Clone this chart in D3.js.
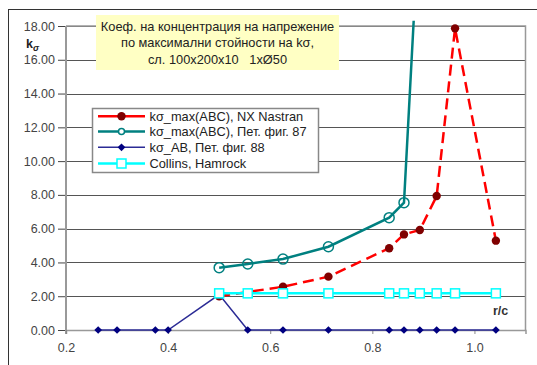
<!DOCTYPE html>
<html>
<head>
<meta charset="utf-8">
<script src="https://cdn.jsdelivr.net/npm/d3@7/dist/d3.min.js"></script>
<style>
  html, body { margin: 0; padding: 0; background: #fff; }
  svg { display: block; font-family: "Liberation Sans", Arial, sans-serif; }
  text { white-space: pre; }
</style>
</head>
<body>
<svg id="chart" width="537" height="365"></svg>
<script>
// r/c positions of the measured sections
const xMain = [0.5, 0.556, 0.625, 0.714, 0.833, 0.862, 0.893, 0.926, 0.962, 1.042];
const xNastran = [0.5, 0.625, 0.714, 0.833, 0.862, 0.893, 0.926, 0.962, 1.042];
const xFig87 = [0.5, 0.556, 0.625, 0.714, 0.833, 0.862, 0.881];
const xFig88 = [0.263, 0.3, 0.375, 0.4, 0.5, 0.556, 0.625, 0.714, 0.833, 0.862, 0.893, 0.926, 0.962, 1.042];

// stress concentration factors
const kNastran = [2.0, 2.56, 3.16, 4.84, 5.66, 5.92, 7.93, 17.86, 5.29];
const kFig87 = [3.69, 3.91, 4.20, 4.93, 6.65, 7.54, 18.31];
const kFig88 = [0, 0, 0, 0, 2.1, 0, 0, 0, 0, 0, 0, 0, 0, 0];
const kCollins = [2.17, 2.17, 2.17, 2.17, 2.17, 2.17, 2.17, 2.17, 2.17, 2.17];

const yTicks = [0, 2, 4, 6, 8, 10, 12, 14, 16, 18];
const xTicks = [0.2, 0.4, 0.6, 0.8, 1.0];

const legendNames = [
  "kσ_max(ABC), NX Nastran",
  "kσ_max(ABC), Пет. фиг. 87",
  "kσ_AB, Пет. фиг. 88",
  "Collins, Hamrock"
];
const titleLines = [
  "Коеф. на концентрация на напрежение",
  "по максимални стойности на kσ,",
  "сл. 100х200х10   1хØ50"
];

const svg = d3.select("#chart");
const x = d3.scaleLinear().domain([0.2, 1.1]).range([66, 525.5]);
const y = d3.scaleLinear().domain([0, 18]).range([330, 26]);

// outer chart frame
svg.append("rect").attr("x", 8.5).attr("y", 9.5).attr("width", 540).attr("height", 370)
  .attr("fill", "#fff").attr("stroke", "#333").attr("stroke-width", 1);

// horizontal gridlines
svg.append("g").selectAll("line").data(yTicks.filter(d => d > 0)).join("line")
  .attr("x1", x(0.2)).attr("x2", x(1.1))
  .attr("y1", d => Math.round(y(d)) + 0.5).attr("y2", d => Math.round(y(d)) + 0.5)
  .attr("stroke", "#555").attr("stroke-width", 1);

// plot area border (top and right)
svg.append("path")
  .attr("d", `M${x(0.2)},${y(18)}H${x(1.1)}V${y(0)}`)
  .attr("fill", "none").attr("stroke", "#999").attr("stroke-width", 1.5);

// y axis
const yAxis = d3.axisLeft(y).tickValues(yTicks).tickFormat(d3.format(".2f")).tickSize(8).tickPadding(3);
const gy = svg.append("g").attr("transform", `translate(${x(0.2)},0)`).call(yAxis);
gy.select(".domain").remove();
gy.selectAll(".tick line").attr("stroke", "#444");
gy.selectAll(".tick text").attr("fill", "#444").attr("font-size", "12.5px")
  .attr("font-family", "Liberation Sans, Arial, sans-serif");
svg.append("line").attr("x1", x(0.2)).attr("x2", x(0.2)).attr("y1", y(18)).attr("y2", y(0) + 4)
  .attr("stroke", "#999").attr("stroke-width", 2);

// x axis
const xAxis = d3.axisBottom(x).tickValues(xTicks).tickFormat(d3.format(".1f")).tickSize(4).tickPadding(9);
const gx = svg.append("g").attr("transform", `translate(0,${y(0)})`).call(xAxis);
gx.select(".domain").attr("stroke", "#999").attr("stroke-width", 1.5);
gx.selectAll(".tick line").attr("stroke", "#888");
gx.selectAll(".tick text").attr("fill", "#444").attr("font-size", "12.5px")
  .attr("font-family", "Liberation Sans, Arial, sans-serif");

// axis titles
const kLabel = svg.append("text").attr("x", 26).attr("y", 47.5)
  .attr("font-weight", "bold").attr("font-size", "12.5px").attr("fill", "#222");
kLabel.append("tspan").text("k");
kLabel.append("tspan").attr("font-size", "9px").attr("font-style", "italic").attr("dy", 3).text("σ");
svg.append("text").attr("x", 493).attr("y", 315).attr("font-weight", "bold")
  .attr("font-size", "12.5px").attr("fill", "#333").text("r/c");

const line = d3.line().x(d => x(d[0])).y(d => y(d[1]));
const pts = (xs, ys) => xs.map((v, i) => [v, ys[i]]);
const inRange = d => d[1] <= 18;

// NX Nastran
const dNas = pts(xNastran, kNastran);
svg.append("path").attr("d", line(dNas)).attr("fill", "none")
  .attr("stroke", "#ff0000").attr("stroke-width", 2.5).attr("stroke-dasharray", "11,6");
svg.append("g").selectAll("circle").data(dNas.filter(inRange)).join("circle")
  .attr("cx", d => x(d[0])).attr("cy", d => y(d[1])).attr("r", 4.2).attr("fill", "#800000");

// Pet. fig. 87
const d87 = pts(xFig87, kFig87);
svg.append("path").attr("d", line(d87)).attr("fill", "none")
  .attr("stroke", "#008080").attr("stroke-width", 2.5);
svg.append("g").selectAll("circle").data(d87.filter(inRange)).join("circle")
  .attr("cx", d => x(d[0])).attr("cy", d => y(d[1])).attr("r", 5)
  .attr("fill", "none").attr("stroke", "#008080").attr("stroke-width", 1.5);

// Pet. fig. 88
const d88 = pts(xFig88, kFig88);
svg.append("path").attr("d", line(d88)).attr("fill", "none")
  .attr("stroke", "#2b2b95").attr("stroke-width", 1.5);
// square diamond (rotated square)
const diamond = d3.symbol().type(d3.symbolSquare).size(30);
svg.append("g").selectAll("path").data(d88).join("path")
  .attr("transform", d => `translate(${x(d[0])},${y(d[1])}) rotate(45)`)
  .attr("d", diamond).attr("fill", "#000080");

// Collins, Hamrock
const dCol = pts(xMain, kCollins);
svg.append("path").attr("d", line(dCol)).attr("fill", "none")
  .attr("stroke", "#00ffff").attr("stroke-width", 2.5);
svg.append("g").selectAll("rect").data(dCol).join("rect")
  .attr("x", d => x(d[0]) - 4.5).attr("y", d => y(d[1]) - 4.5)
  .attr("width", 9).attr("height", 9)
  .attr("fill", "#fff").attr("stroke", "#00ffff").attr("stroke-width", 1.5);

// title box
svg.append("rect").attr("x", 96).attr("y", 15).attr("width", 243).attr("height", 55)
  .attr("fill", "#ffffc4");
svg.append("g").selectAll("text").data(titleLines).join("text")
  .attr("x", 217.5).attr("y", (d, i) => 30.5 + i * 16.5)
  .attr("text-anchor", "middle").attr("font-size", "12.8px").attr("fill", "#222")
  .style("white-space", "pre")
  .text(d => d);

// legend
const lg = svg.append("g");
lg.append("rect").attr("x", 92.5).attr("y", 108.5).attr("width", 226).attr("height", 64)
  .attr("fill", "#fff").attr("stroke", "#888").attr("stroke-width", 1.5);
const rowY = [116.3, 131.5, 147.3, 163.5];
const styles = [
  { stroke: "#ff0000", width: 2.5 },
  { stroke: "#008080", width: 2.5 },
  { stroke: "#2b2b95", width: 1.5 },
  { stroke: "#00ffff", width: 2.5 }
];
legendNames.forEach((name, i) => {
  const cy = rowY[i];
  lg.append("line").attr("x1", 98).attr("x2", 145).attr("y1", cy).attr("y2", cy)
    .attr("stroke", styles[i].stroke).attr("stroke-width", styles[i].width);
  if (i === 0) {
    lg.append("circle").attr("cx", 121.5).attr("cy", cy).attr("r", 4.2).attr("fill", "#800000");
  } else if (i === 1) {
    lg.append("circle").attr("cx", 121.5).attr("cy", cy).attr("r", 3)
      .attr("fill", "#fff").attr("stroke", "#008080").attr("stroke-width", 1.5);
  } else if (i === 2) {
    lg.append("path").attr("transform", `translate(121.5,${cy}) rotate(45)`).attr("d", diamond).attr("fill", "#000080");
  } else {
    lg.append("rect").attr("x", 117).attr("y", cy - 4.5).attr("width", 9).attr("height", 9)
      .attr("fill", "#fff").attr("stroke", "#00ffff").attr("stroke-width", 1.5);
  }
  lg.append("text").attr("x", 149.5).attr("y", cy + 4.5).attr("font-size", "12.8px")
    .attr("fill", "#222").text(name);
});
</script>
</body>
</html>
